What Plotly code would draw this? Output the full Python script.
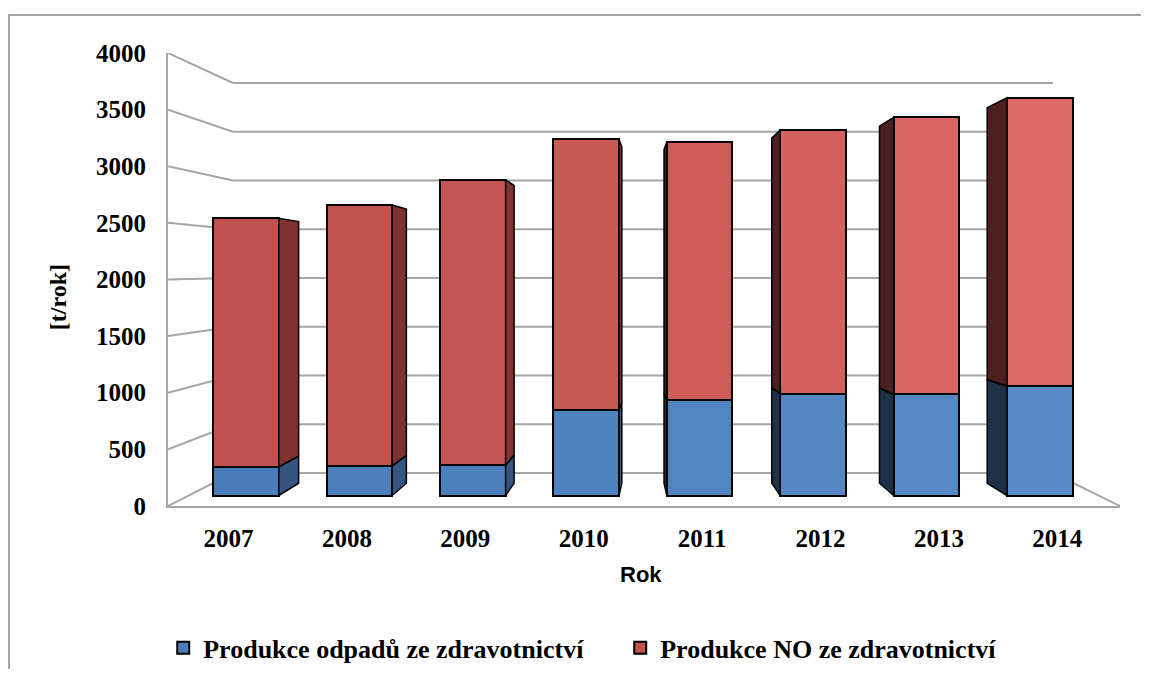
import plotly.graph_objects as go

# ── data (t/rok) ─────────────────────────────────────────────────────────────
YEARS = ["2007", "2008", "2009", "2010", "2011", "2012", "2013", "2014"]
ODPADY = [267, 274, 280, 793, 886, 942, 937, 1016]      # Produkce odpadů ze zdravotnictví
NO = [2304, 2421, 2647, 2511, 2393, 2449, 2571, 2674]   # Produkce NO ze zdravotnictví
Y_TICKS = [0, 500, 1000, 1500, 2000, 2500, 3000, 3500, 4000]

# front-face colours drift lighter to the right (Excel gradient look)
BLUE_FRONT = ["#4A7DBA", "#4B7EBB", "#4C80BD", "#4F83C0", "#5185C2", "#5487C4", "#5689C6", "#598BC8"]
RED_FRONT = ["#C1514E", "#C3534F", "#C55552", "#C95955", "#CD5C58", "#D3615D", "#D76561", "#DC6A66"]
SIDE = {  # (blue, red) side faces, seen on the right / on the left
    "right": ("#34557F", "#7F3331"),
    "left": ("#1F3148", "#4E1F1F"),
}

# ── fake 3D geometry, in bar-plane axis units ────────────────────────────────
Y_RANGE = [-97.4, 4104.8]
FRONT_Y = (-97.4, 1.0506)    # left axis / front plane
BACK_Y = (208.7, 0.9045)     # back wall
BARBACK_Y = (114.0, 0.944)   # back edge of each bar
X_FRONT_L, X_BACK_L, X_BACK_R, X_FRONT_R = -0.688, -0.1146, 7.116, 7.707
VP = 3.5          # vanishing point between 2010 and 2011
SIDE_K = 0.05     # side-face depth per bar step
FRONT_MAG = 1.044
BAR_W = 0.578
GRID = "#A6A6A6"
SERIF = "Liberation Serif"

xs = list(range(len(YEARS)))
fig = go.Figure()

# side faces (drawn as closed polygons)
polys = {}
for i in xs:
    d = SIDE_K * (VP - i)
    side = "right" if d > 0 else "left"
    xe = i + BAR_W / 2 if d > 0 else i - BAR_W / 2
    segs = [(0, ODPADY[i], 0), (ODPADY[i], ODPADY[i] + NO[i], 1)]
    for y0, y1, k in segs:
        col = SIDE[side][k]
        px_, py_ = polys.setdefault(col, ([], []))
        b, r = BARBACK_Y
        px_ += [xe, xe, xe + d, xe + d, xe, None]
        py_ += [y0, y1, b + r * y1, b + r * y0, y0, None]

for col, (px_, py_) in polys.items():
    fig.add_trace(go.Scatter(
        x=px_, y=py_, mode="lines", fill="toself", fillcolor=col,
        line=dict(color="black", width=1.5), showlegend=False, hoverinfo="skip",
    ))

fig.add_trace(go.Bar(
    x=xs, y=ODPADY, width=BAR_W, name="Produkce odpadů ze zdravotnictví",
    marker=dict(color=BLUE_FRONT, line=dict(color="black", width=2)),
))
fig.add_trace(go.Bar(
    x=xs, y=NO, width=BAR_W, name="Produkce NO ze zdravotnictví",
    marker=dict(color=RED_FRONT, line=dict(color="black", width=2)),
))

# walls: left-wall diagonals + back-wall gridlines
shapes = []
for v in Y_TICKS:
    yf = FRONT_Y[0] + FRONT_Y[1] * v
    yb = BACK_Y[0] + BACK_Y[1] * v
    shapes.append(dict(type="line", xref="x", yref="y", x0=X_FRONT_L, y0=yf, x1=X_BACK_L, y1=yb,
                       line=dict(color=GRID, width=2), layer="below"))
    shapes.append(dict(type="line", xref="x", yref="y", x0=X_BACK_L, y0=yb, x1=X_BACK_R, y1=yb,
                       line=dict(color=GRID, width=2), layer="below"))
# floor, right edge
shapes.append(dict(type="line", xref="x", yref="y", x0=X_FRONT_R, y0=FRONT_Y[0], x1=X_BACK_R, y1=BACK_Y[0],
                   line=dict(color=GRID, width=2), layer="below"))
# outer chart frame
shapes.append(dict(type="rect", xref="paper", yref="paper", x0=-0.167, y0=-0.45, x1=1.06, y1=1.0839,
                   line=dict(color="#868686", width=1.5), layer="below"))

fig.update_layout(
    width=1133, height=661,
    margin=dict(l=160, r=21, t=45, b=163),
    paper_bgcolor="white", plot_bgcolor="white",
    barmode="stack", bargap=0,
    shapes=shapes,
    xaxis=dict(
        range=[X_FRONT_L, X_FRONT_R],
        tickvals=[VP + (i - VP) * FRONT_MAG for i in xs], ticktext=YEARS,
        tickfont=dict(family=SERIF, size=25, color="black", weight="bold"),
        ticklabelstandoff=9,
        showgrid=False, zeroline=False, showline=True, linecolor=GRID, linewidth=2,
    ),
    yaxis=dict(
        range=Y_RANGE,
        tickvals=[FRONT_Y[0] + FRONT_Y[1] * v for v in Y_TICKS], ticktext=[str(v) for v in Y_TICKS],
        tickfont=dict(family=SERIF, size=25, color="black", weight="bold"),
        ticklabelstandoff=15,
        showgrid=False, zeroline=False, showline=True, linecolor=GRID, linewidth=2,
    ),
    legend=dict(
        orientation="h", xref="container", x=0.137, xanchor="left",
        yref="container", y=0.032, yanchor="middle",
        entrywidth=412, entrywidthmode="pixels",
        font=dict(family=SERIF, size=26, color="black", weight="bold"),
        traceorder="normal",
    ),
    annotations=[
        dict(text="[t/rok]", textangle=-90, xref="paper", yref="paper", x=-0.1155, y=0.461,
             xanchor="center", yanchor="middle",
             showarrow=False, font=dict(family=SERIF, size=24, color="black", weight="bold")),
        dict(text="Rok", xref="paper", yref="paper", x=0.497, y=-0.152,
             xanchor="center", yanchor="middle",
             showarrow=False, font=dict(family="Liberation Sans", size=22, color="black", weight="bold")),
    ],
    showlegend=True,
)

fig.write_html("out.html")
